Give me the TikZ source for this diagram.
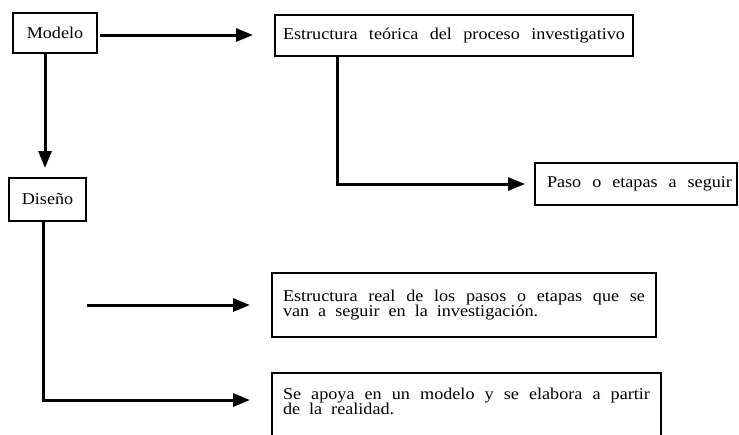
\documentclass[tikz,border=0pt]{standalone}
\usepackage{fontspec}
\setmainfont[FakeStretch=1.1]{Liberation Serif}
\usetikzlibrary{arrows.meta,calc}
\newcommand{\widesp}{\spaceskip=9pt plus 40pt minus 4pt\relax}
\begin{document}
\begin{tikzpicture}[x=1pt,y=-1pt,
  boxline/.style={draw=black,line width=2.6pt},
  txt/.style={font=\fontsize{16.5}{16}\selectfont,text=black},
  bx/.style={boxline,txt,inner ysep=0pt,outer sep=0pt},
  arr/.style={draw=black,line width=3pt,-{Triangle[length=17pt,width=13pt]}}]
\useasboundingbox (0,0) rectangle (739,434);
\clip (0,0) rectangle (739,434);
\fill[white] (0,0) rectangle (739,434);
% nodes
\node[bx,minimum width=84pt,minimum height=40pt,inner xsep=0pt] (modelo) at (55,33) {Modelo};
\node[bx,minimum width=77pt,minimum height=43pt,inner xsep=0pt] (diseno) at (47.5,199.5) {Diseño};
\node[bx,anchor=north west,minimum height=41pt,inner xsep=8pt] (teorica) at (275,15)
  {\makebox[342pt][s]{Estructura teórica del proceso investigativo}\hspace{27pt}};
\node[bx,anchor=north west,minimum height=42pt,inner xsep=5pt] (paso) at (535,163)
  {\hspace{7pt}\makebox[185pt][s]{Paso o etapas a seguir}};
\node[bx,anchor=north west,minimum width=384pt,minimum height=64pt,inner xsep=11pt] (real) at (272,273)
  {\parbox{362pt}{\lineskiplimit=-100pt\baselineskip=15.5pt\widesp
   \makebox[362pt][s]{Estructura real de los pasos o etapas que se}\par
   van a seguir en la investigación.}};
\node[bx,anchor=north west,inner xsep=11pt,inner ysep=15pt] (apoya) at (272,373)
  {\parbox[t][50pt][t]{367pt}{\lineskiplimit=-100pt\baselineskip=15.5pt\widesp
   \makebox[367pt][s]{Se apoya en un modelo y se elabora a partir}\par
   de la realidad.}};
% coordinates
\coordinate (apoyain) at (272,400);
\coordinate (freestart) at (87,305);
% connectors
\draw[arr,shorten <=3pt,shorten >=22pt] (modelo.east |- 0,35) -- (teorica.west |- 0,35);
\draw[arr,shorten >=10pt] ([xshift=-10pt]modelo.south) -- ([xshift=-10pt]modelo.south |- diseno.north);
\draw[arr,shorten >=10pt] (teorica.south -| 337,0) |- (paso.west);
\draw[arr,shorten >=22pt] ([xshift=-4.5pt]diseno.south) |- (apoyain);
\draw[arr,shorten >=22pt] (freestart) -- (freestart -| real.west);
\end{tikzpicture}
\end{document}
